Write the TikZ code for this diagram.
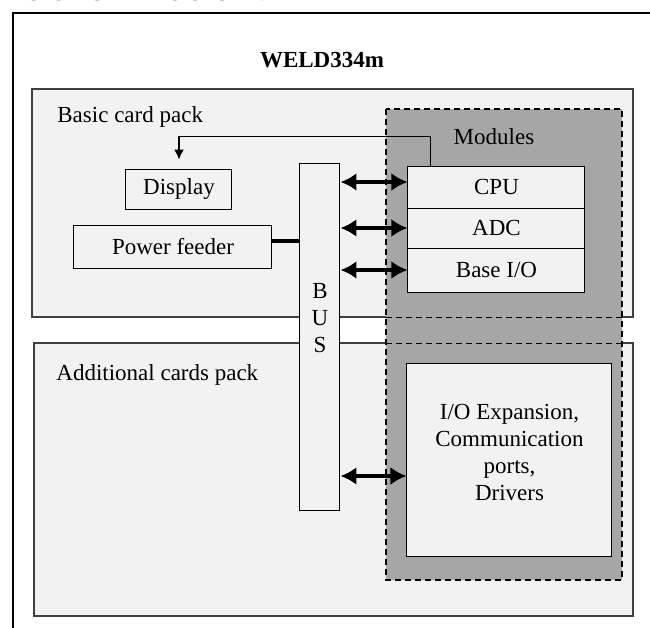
\documentclass[tikz,border=0pt]{standalone}
\usepackage{fontspec}
\setmainfont{Liberation Serif}
\newfontfamily\introfont{Poppins}
\usepackage{xcolor}
\usepackage{tikz}
\usetikzlibrary{arrows.meta}

\definecolor{packgray}{HTML}{F2F2F2}
\definecolor{modgray}{HTML}{A6A6A6}
\definecolor{edgegray}{HTML}{404040}

\begin{document}
\begin{tikzpicture}[x=0.5pt, y=-0.5pt,
		pack/.style={fill=packgray, draw=edgegray, line width=0.6pt},
		card/.style={draw, fill=packgray, line width=0.5pt, inner sep=0pt},
		txt/.style={inner sep=0pt},
		busarrow/.style={{Latex[length=8pt,width=9pt]}-{Latex[length=8pt,width=9pt]}, line width=2pt},
		sigarrow/.style={-{Latex[length=5pt,width=5pt]}, line width=0.75pt}]
	\fontsize{11.5}{13.5}\selectfont
	\useasboundingbox (0,0) rectangle (650,628);
	\clip (0,0) rectangle (650,628);
	\node[txt, anchor=base west, font=\introfont\fontsize{16}{18}\selectfont] (intro) at (-12,0) {n is shown below.};
	\draw[line width=1pt] (12.7,640) -- (12.7,12.7) -- (660,12.7);
	\node[txt, font=\bfseries] (title) at (322,60) {WELD334m};
	\draw[pack] (32,89) rectangle (633,317);
	\draw[pack] (34,343) rectangle (633,616);
	\fill[modgray] (386,109) rectangle (622,580);
	\draw[densely dashed, line width=0.5pt] (386,317) -- (622,317) (386,343) -- (622,343);
	\draw[densely dashed, line width=0.6pt] (386,109) rectangle (622,580);
	\node[txt, anchor=west] (basiclbl) at (57,117) {Basic card pack};
	\node[txt, anchor=west] (addlbl) at (56,375) {Additional cards pack};
	\node[txt] (modlbl) at (494,137) {Modules};
	\node[card, minimum width=53pt, minimum height=20pt] (disp) at (179,189) {Display};
	\node[card, minimum width=99pt, minimum height=21.5pt] (power) at (173,246.5) {Power feeder};
	\node[card, minimum width=20pt, minimum height=173.5pt] (bus) at (320,336.5) {};
	\node[txt, align=center] (buslbl) at (320,318) {B\\U\\S};
	\node[card, minimum width=88.5pt, minimum height=21pt] (cpu) at (496.5,187) {CPU};
	\node[card, minimum width=88.5pt, minimum height=20pt] (adc) at (496.5,228) {ADC};
	\node[card, minimum width=88.5pt, minimum height=22pt] (baseio) at (496.5,270) {Base I/O};
	\node[card, minimum width=102.5pt, minimum height=96.5pt] (ioexp) at (509.5,459.5) {};
	\node[txt, align=center] (iolbl) at (509.5,452.5) {I/O Expansion,\\Communication\\ports,\\Drivers};
	\coordinate (cpuin) at ([yshift=2.5pt]cpu.west);
	\coordinate (ioin) at ([yshift=-8.25pt]ioexp.west);
	\coordinate (pwrout) at ([yshift=2.75pt]power.east);
	\draw[busarrow] (bus.east |- cpuin) -- (cpuin);
	\draw[busarrow] (bus.east |- adc.west) -- (adc.west);
	\draw[busarrow] (bus.east |- baseio.west) -- (baseio.west);
	\draw[busarrow] (bus.east |- ioin) -- (ioin);
	\draw[line width=2pt] (pwrout) -- (bus.west |- pwrout);
	\draw[sigarrow, shorten >=4.5pt] ([xshift=11.5pt]cpu.north west) -- ++(0,-29) -| (disp.north);
\end{tikzpicture}
\end{document}
